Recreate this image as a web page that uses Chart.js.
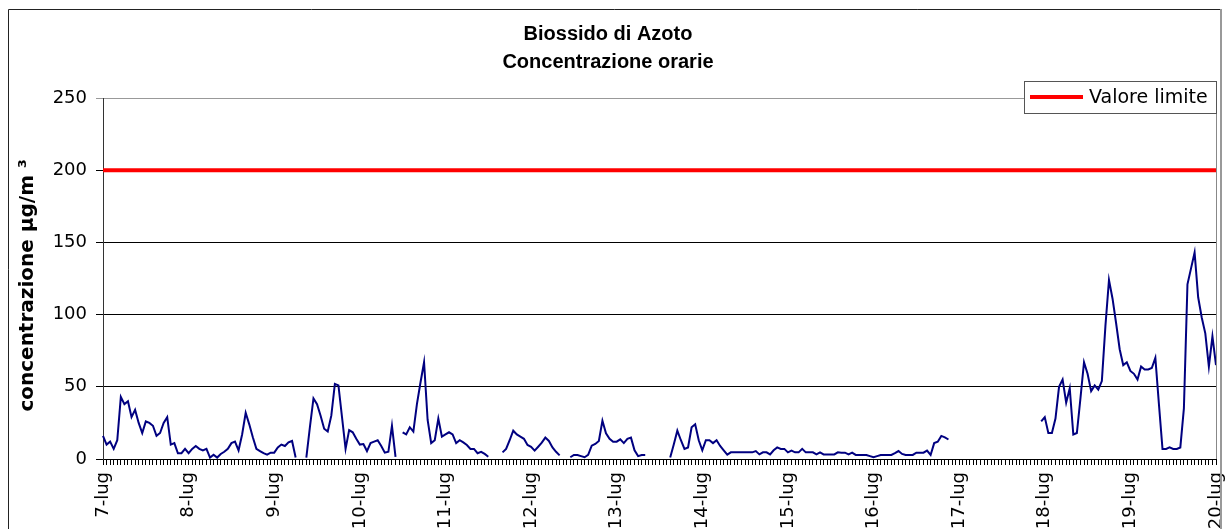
<!DOCTYPE html>
<html lang="it">
<head>
<meta charset="utf-8">
<title>Biossido di Azoto - Concentrazione orarie</title>
<script src="https://cdn.jsdelivr.net/npm/chart.js@4.4.1/dist/chart.umd.min.js"></script>
<style>
  html, body { margin: 0; padding: 0; background: #fff; }
</style>
</head>
<body>
<canvas id="grafico-no2" width="1225" height="529"></canvas>
<script>
// giorni sull'asse x (una etichetta ogni 24 ore)
const giorni = ['7-lug', '8-lug', '9-lug', '10-lug', '11-lug', '12-lug', '13-lug',
                '14-lug', '15-lug', '16-lug', '17-lug', '18-lug', '19-lug', '20-lug'];

// concentrazioni orarie NO2 (µg/m3), null = dato mancante
const g07 = [16, 10, 12, 7, 13, 43, 38, 40, 29, 34, 25, 18, 26, 25, 23, 16, 18, 25, 29, 10, 11, 4, 4, 7];
const g08 = [4, 7, 9, 7, 6, 7, 1, 3, 1, 3.5, 5, 7, 11, 12, 6, 17, 32, 24, 15, 7, 5.5, 4, 3, 4.4];
const g09 = [4.4, 8, 10, 9, 11.5, 12.5, 1, null, null, 1, 22, 42, 38, 30, 21, 19, 30, 52, 51, 29, 7, 20, 18.5, 14];
const g10 = [10, 10.4, 5.5, 11, 12, 13, 9, 4.4, 5, 23, 1.5, null, 18.5, 17, 22, 19, 38, 53, 67, 27, 11, 13, 28, 15.5];
const g11 = [17, 18.5, 17, 11, 13, 11.5, 9.7, 7, 7, 4, 5, 3.5, 1.6, null, null, null, 4.6, 7, 13, 19.6, 17, 15.5, 14, 9.7];
const g12 = [8.5, 5.8, 8.5, 11.3, 14.8, 12.5, 8, 5, 2.5, null, null, 1.2, 2.8, 2.8, 2, 1.2, 2.8, 9.2, 10.4, 12.5, 26.5, 17.8, 14, 12];
const g13 = [12, 13.6, 11, 14, 14.8, 6, 2, 2.8, 2.8, null, null, null, null, null, null, 1, 10, 19.6, 13, 7, 8, 22, 24, 13];
const g14 = [6, 13, 13, 11, 13, 9, 6, 3, 4.6, 4.6, 4.6, 4.6, 4.6, 4.6, 4.6, 5.5, 3.2, 4.6, 4.6, 3.2, 6, 8, 7, 7];
const g15 = [4.6, 5.8, 4.6, 4.6, 7, 4.6, 4.6, 4.6, 3.2, 4.6, 3.2, 3.2, 3.2, 3.2, 4.6, 4.4, 4.4, 3.2, 4.4, 2.8, 2.8, 2.8, 2.8, 2];
const g16 = [1.2, 2, 2.8, 2.8, 2.8, 2.8, 4, 5.5, 3.5, 2.8, 2.8, 2.8, 4.4, 4.4, 4.4, 5.8, 2.8, 11, 12, 16, 15, 13.5, null, null];
const g17 = [null, null, null, null, null, null, null, null, null, null, null, null,
             null, null, null, null, null, null, null, null, null, null, null, 26];
const g18 = [29, 18, 18, 28, 50, 55, 39, 49, 17, 18, 42, 67, 59, 47, 51, 48, 54, 92, 124, 111, 94, 76, 65, 67];
const g19 = [61, 59, 55, 64, 62, 62, 63, 70, 38, 7, 7, 8, 7, 7, 8, 35, 121, 132, 143, 112, 98, 87, 64, 85];
const g20 = [65];

const valoreLimite = 200;

const concentrazioni = [].concat(g07, g08, g09, g10, g11, g12, g13, g14, g15, g16, g17, g18, g19, g20);
const etichette = concentrazioni.map((v, i) => giorni[Math.floor(i / 24)]);
const limite = concentrazioni.map(() => valoreLimite);

const fonte = 'DejaVu Sans';
Chart.defaults.font.family = fonte;
Chart.defaults.color = '#000';

// cornice esterna, bordo destro dell'area e legenda in alto a destra
const cornice = {
    id: 'cornice',
    beforeDraw(chart) {
        const ctx = chart.ctx;
        ctx.save();
        ctx.fillStyle = '#fff';
        ctx.fillRect(0, 0, chart.width, chart.height);
        ctx.restore();
    },
    afterDraw(chart) {
        const ctx = chart.ctx;
        const area = chart.chartArea;
        ctx.save();
        // bordo destro dell'area del grafico
        ctx.strokeStyle = '#888';
        ctx.lineWidth = 1;
        ctx.beginPath();
        ctx.moveTo(Math.round(area.right) + 0.5, area.top);
        ctx.lineTo(Math.round(area.right) + 0.5, area.bottom);
        ctx.stroke();

        // cornice esterna
        ctx.strokeStyle = '#222';
        ctx.beginPath();
        ctx.moveTo(8.5, chart.height);
        ctx.lineTo(8.5, 9.5);
        ctx.lineTo(1220, 9.5);
        ctx.stroke();
        ctx.strokeStyle = '#999';
        ctx.lineWidth = 2;
        ctx.beginPath();
        ctx.moveTo(1221, 9);
        ctx.lineTo(1221, chart.height);
        ctx.stroke();

        // legenda
        const ds = chart.data.datasets[1];
        ctx.fillStyle = '#fff';
        ctx.fillRect(1024, 81, 192, 32);
        ctx.strokeStyle = '#555';
        ctx.lineWidth = 1;
        ctx.strokeRect(1024.5, 81.5, 192, 32);
        ctx.strokeStyle = ds.borderColor;
        ctx.lineWidth = 4;
        ctx.beginPath();
        ctx.moveTo(1030, 97);
        ctx.lineTo(1083, 97);
        ctx.stroke();
        ctx.fillStyle = '#000';
        ctx.font = '19px "' + fonte + '"';
        ctx.textBaseline = 'middle';
        ctx.fillText(ds.label, 1089, 98);
        ctx.restore();
    }
};

new Chart(document.getElementById('grafico-no2'), {
    type: 'line',
    data: {
        labels: etichette,
        datasets: [{
            label: 'NO2',
            data: concentrazioni,
            borderColor: '#000080',
            borderWidth: 2,
            pointRadius: 0,
            tension: 0,
            spanGaps: false
        }, {
            label: 'Valore limite',
            data: limite,
            borderColor: '#ff0000',
            borderWidth: 4,
            pointRadius: 0
        }]
    },
    options: {
        responsive: false,
        animation: false,
        layout: { padding: { left: 0, right: 9, top: 0, bottom: 0 } },
        scales: {
            x: {
                type: 'category',
                offset: false,
                afterFit: s => {
                    s.height = 70;
                    s.paddingLeft = 0;
                    s.paddingRight = 0;
                },
                grid: { drawOnChartArea: false, drawTicks: true, tickLength: 6, color: '#000' },
                border: { color: '#000', width: 1 },
                ticks: {
                    autoSkip: false,
                    minRotation: 90,
                    maxRotation: 90,
                    padding: 7,
                    font: { size: 18 },
                    callback: (val, idx) => idx % 24 === 0 ? etichette[idx] : ''
                }
            },
            y: {
                min: 0,
                max: 250,
                afterFit: s => { s.width = 103; },
                grid: {
                    color: c => c.tick && c.tick.value === 250 ? '#999' : '#000',
                    lineWidth: 1,
                    tickLength: 7
                },
                border: { color: '#333', width: 1 },
                ticks: { stepSize: 50, padding: 9, font: { size: 18 } },
                title: {
                    display: true,
                    text: 'concentrazione µg/m ³\u00a0\u00a0',
                    font: { size: 20, weight: 'bold' },
                    padding: { top: 16, bottom: 0 }
                }
            }
        },
        plugins: {
            legend: { display: false },
            tooltip: { enabled: false },
            title: {
                display: true,
                text: ['Biossido di Azoto', 'Concentrazione orarie'],
                font: { family: 'Liberation Sans', size: 20, weight: 'bold', lineHeight: 1.4 },
                color: '#000',
                padding: { top: 20, bottom: 22 }
            }
        }
    },
    plugins: [cornice]
});
</script>
</body>
</html>
